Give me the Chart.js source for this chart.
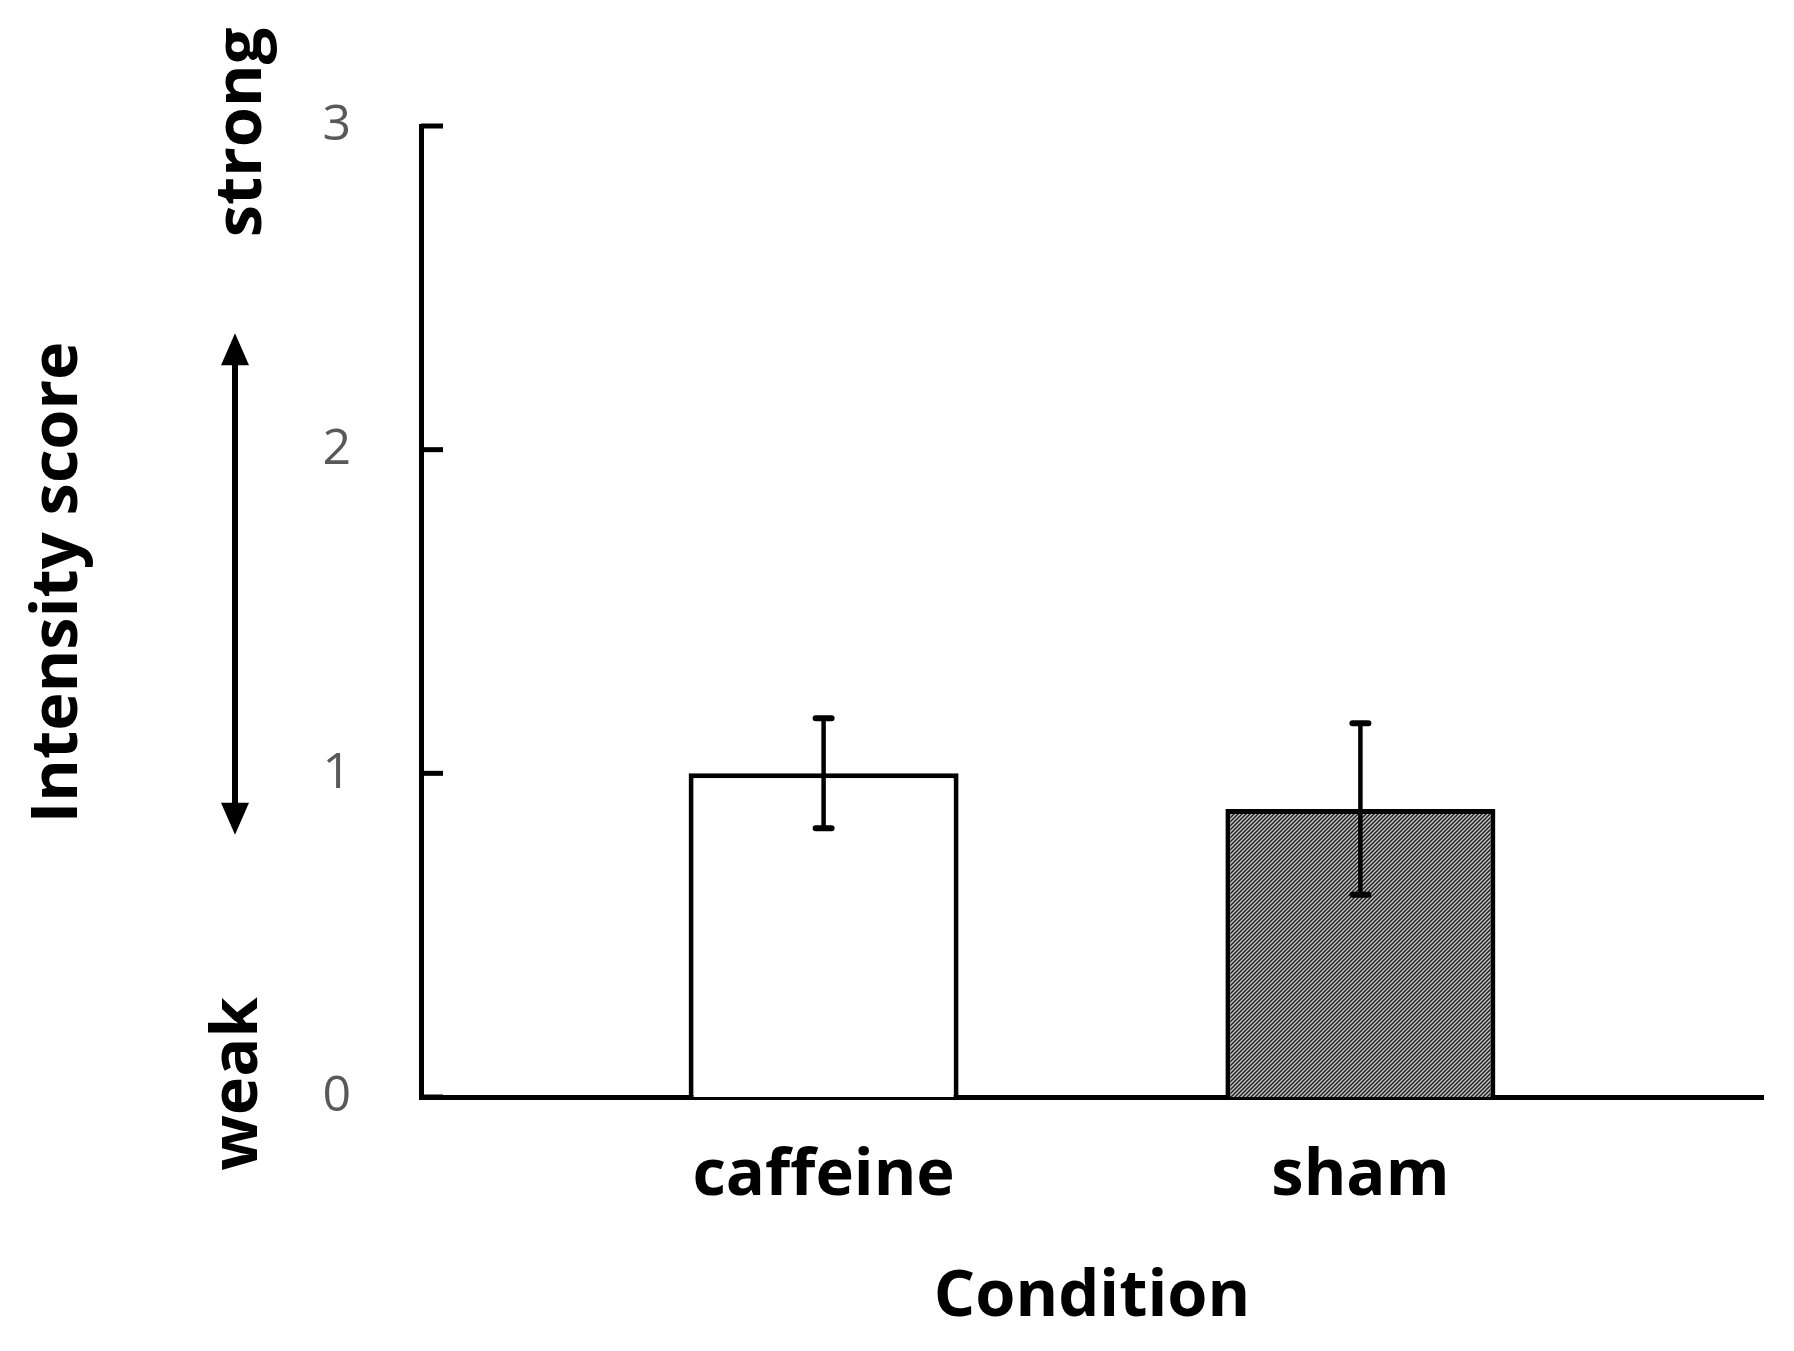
<!DOCTYPE html>
<html>
<head>
<meta charset="utf-8">
<script src="https://cdn.jsdelivr.net/npm/chart.js@4"></script>
<style>
  html, body { margin: 0; padding: 0; background: #fff; overflow: hidden; }
  canvas { display: block; }
</style>
</head>
<body>
<canvas id="myChart" width="1794" height="1351"></canvas>
<script>
const categories = ['caffeine', 'sham'];
const means = [1.0, 0.89];
const errors = [0.17, 0.265];
const yTicks = [0, 1, 2, 3];

const fontFamily = "'Open Sans', sans-serif";
const boldSize = 65;

const cts = document.querySelector('#myChart').getContext('2d');

// diagonal hatch used for the sham bar
function makeHatch() {
    const c = document.createElement('canvas');
    c.width = 4;
    c.height = 4;
    const g = c.getContext('2d');
    g.fillStyle = '#cacaca';
    g.fillRect(0, 0, 4, 4);
    g.strokeStyle = '#1e1e1e';
    g.lineWidth = 1.5;
    g.beginPath();
    g.moveTo(0, 4); g.lineTo(4, 0);
    g.moveTo(-2, 2); g.lineTo(2, -2);
    g.moveTo(2, 6); g.lineTo(6, 2);
    g.stroke();
    return cts.createPattern(c, 'repeat');
}

const errorBars = {
    id: 'errorBars',
    afterDatasetsDraw(chart) {
        const { ctx, scales: { y } } = chart;
        const meta = chart.getDatasetMeta(0);
        ctx.save();
        ctx.strokeStyle = '#000';
        meta.data.forEach((bar, i) => {
            const top = y.getPixelForValue(means[i] + errors[i]);
            const bot = y.getPixelForValue(means[i] - errors[i]);
            ctx.lineWidth = 4.5;
            ctx.beginPath();
            ctx.moveTo(bar.x, top); ctx.lineTo(bar.x, bot);
            ctx.stroke();
            ctx.lineWidth = 6;
            ctx.lineCap = 'round';
            ctx.beginPath();
            ctx.moveTo(bar.x - 8, top); ctx.lineTo(bar.x + 8, top);
            ctx.moveTo(bar.x - 8, bot); ctx.lineTo(bar.x + 8, bot);
            ctx.stroke();
            ctx.lineCap = 'butt';
        });
        ctx.restore();
    }
};

const sideNotes = {
    id: 'sideNotes',
    afterDraw(chart) {
        const { ctx, scales: { y } } = chart;
        ctx.save();
        // tick marks point inward
        ctx.strokeStyle = '#000';
        ctx.lineWidth = 5;
        y.ticks.forEach(t => {
            const py = y.getPixelForValue(t.value);
            ctx.beginPath();
            ctx.moveTo(y.right, py);
            ctx.lineTo(y.right + 22, py);
            ctx.stroke();
        });

        ctx.fillStyle = '#000';
        ctx.font = 'bold ' + boldSize + 'px ' + fontFamily;
        ctx.textAlign = 'center';
        ctx.textBaseline = 'middle';
        const vText = (txt, x, v) => {
            ctx.save();
            ctx.translate(x, y.getPixelForValue(v));
            ctx.rotate(-Math.PI / 2);
            ctx.fillText(txt, 0, 0);
            ctx.restore();
        };
        vText('Intensity score', 58, 1.59);
        vText('strong', 242, 2.98);
        vText('weak', 238, 0.04);

        // double arrow
        const ax = 235;
        const top = y.getPixelForValue(2.36);
        const bot = y.getPixelForValue(0.81);
        const head = 32, half = 14;
        ctx.lineWidth = 6;
        ctx.beginPath();
        ctx.moveTo(ax, top + head - 2);
        ctx.lineTo(ax, bot - head + 2);
        ctx.stroke();
        ctx.beginPath();
        ctx.moveTo(ax, top);
        ctx.lineTo(ax - half, top + head);
        ctx.lineTo(ax + half, top + head);
        ctx.closePath();
        ctx.moveTo(ax, bot);
        ctx.lineTo(ax - half, bot - head);
        ctx.lineTo(ax + half, bot - head);
        ctx.closePath();
        ctx.fill();
        ctx.restore();
    }
};

const data = {
    datasets: [
        {
            data: categories.map((c, i) => ({ x: i, y: means[i] })),
            backgroundColor: ['#ffffff', makeHatch()],
            borderColor: '#000',
            borderWidth: 5,
            borderSkipped: 'bottom',
            categoryPercentage: 1,
            barPercentage: 0.503,
        },
    ],
};

const config = {
    type: 'bar',
    data: data,
    options: {
        responsive: false,
        devicePixelRatio: 1,
        animation: false,
        layout: { padding: { top: 126, right: 31, bottom: 0, left: 0 } },
        plugins: {
            legend: { display: false },
            tooltip: { enabled: false },
        },
        scales: {
            x: {
                type: 'linear',
                min: -0.75,
                max: 1.75,
                offset: false,
                afterBuildTicks: (scale) => {
                    scale.ticks = categories.map((c, i) => ({ value: i }));
                },
                afterFit: (scale) => { scale.height = 254; },
                grid: { display: false, drawTicks: false },
                border: { display: true, color: '#000', width: 5 },
                ticks: {
                    padding: 40,
                    color: '#000',
                    font: { family: fontFamily, size: boldSize, weight: 'bold' },
                    callback: (v) => categories[v],
                },
                title: {
                    display: true,
                    text: 'Condition',
                    color: '#000',
                    font: { family: fontFamily, size: boldSize, weight: 'bold' },
                    padding: { top: 0, bottom: 15 },
                },
            },
            y: {
                min: 0,
                max: 3,
                afterBuildTicks: (scale) => {
                    scale.ticks = yTicks.map(v => ({ value: v }));
                },
                afterFit: (scale) => { scale.width = 421; },
                grid: { display: false, drawTicks: false },
                border: { display: true, color: '#000', width: 5 },
                ticks: {
                    padding: 70,
                    color: '#595959',
                    font: { family: fontFamily, size: 50 },
                },
            },
        },
    },
    plugins: [errorBars, sideNotes],
};

const myChart = new Chart(cts, config);
</script>
</body>
</html>
